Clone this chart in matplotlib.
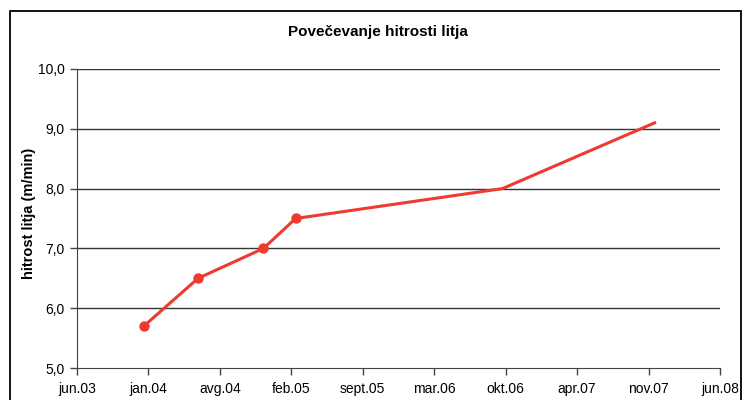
import numpy as np
import pandas as pd
import matplotlib
matplotlib.use("Agg")
import matplotlib.pyplot as plt
from matplotlib.patches import Rectangle

# Podatki
# ======================================================================================
datumi = ["2004-01-01", "2004-06-01", "2004-12-01", "2005-03-01", "2006-10-01", "2007-12-01"]
hitrost = [5.7, 6.5, 7.0, 7.5, 8.0, 9.1]
z_oznako = [True, True, True, True, False, False]

# os x kot v Excelu: od 37800 do 39600, korak 200 dni
os_zacetek = "2003-06-28"
os_korak_dni = 200
oznake_x = ["jun.03", "jan.04", "avg.04", "feb.05", "sept.05",
            "mar.06", "okt.06", "apr.07", "nov.07", "jun.08"]
oznake_y = [5.0, 6.0, 7.0, 8.0, 9.0, 10.0]

plt.rcParams["font.family"] = ["Liberation Sans", "DejaVu Sans"]

x = pd.to_datetime(datumi)
zacetek = pd.Timestamp(os_zacetek)
tocke_x = [zacetek + pd.Timedelta(days=os_korak_dni * i) for i in range(len(oznake_x))]

fig = plt.figure(figsize=(7.43, 4.0), dpi=100)
ax = fig.add_axes([77 / 743, 1 - 368 / 400, (720 - 77) / 743, (368 - 69) / 400])

rdeca = "#EE3A2F"
ax.plot(x, hitrost, color=rdeca, lw=2.2, zorder=3)
oz = np.array(z_oznako)
ax.plot(x[oz], np.array(hitrost)[oz], "o", color=rdeca, ms=6.5, zorder=4)

ax.set_xlim(tocke_x[0], tocke_x[-1])
ax.set_ylim(oznake_y[0], oznake_y[-1])
ax.set_xticks(tocke_x)
ax.set_xticklabels(oznake_x, fontsize=10)
ax.set_yticks(oznake_y)
ax.set_yticklabels([f"{v:.1f}".replace(".", ",") for v in oznake_y], fontsize=10)

for v in oznake_y[1:]:
    ax.axhline(v, color="#333333", lw=1.0, zorder=1)

ax.spines["top"].set_visible(False)
ax.spines["right"].set_visible(False)
ax.spines["left"].set_color("#444444")
ax.spines["bottom"].set_color("#444444")
ax.tick_params(axis="both", direction="out", length=5, width=1, color="#444444")
ax.tick_params(axis="x", pad=5)
ax.tick_params(axis="y", pad=4)

ax.set_ylabel("hitrost litja (m/min)", fontsize=10.5, fontweight="bold")
ax.yaxis.set_label_coords(-0.064, 0.518)

fig.text(378 / 743, 1 - 32 / 400, "Povečevanje hitrosti litja",
         ha="center", va="center", fontsize=11, fontweight="bold")

# okvir grafikona
fig.patches.append(Rectangle((10 / 743, -0.1), 731 / 743, 1.1 - 11 / 400,
                             transform=fig.transFigure, fill=False,
                             edgecolor="black", lw=1.3))

fig.savefig("out.png", dpi=100)
